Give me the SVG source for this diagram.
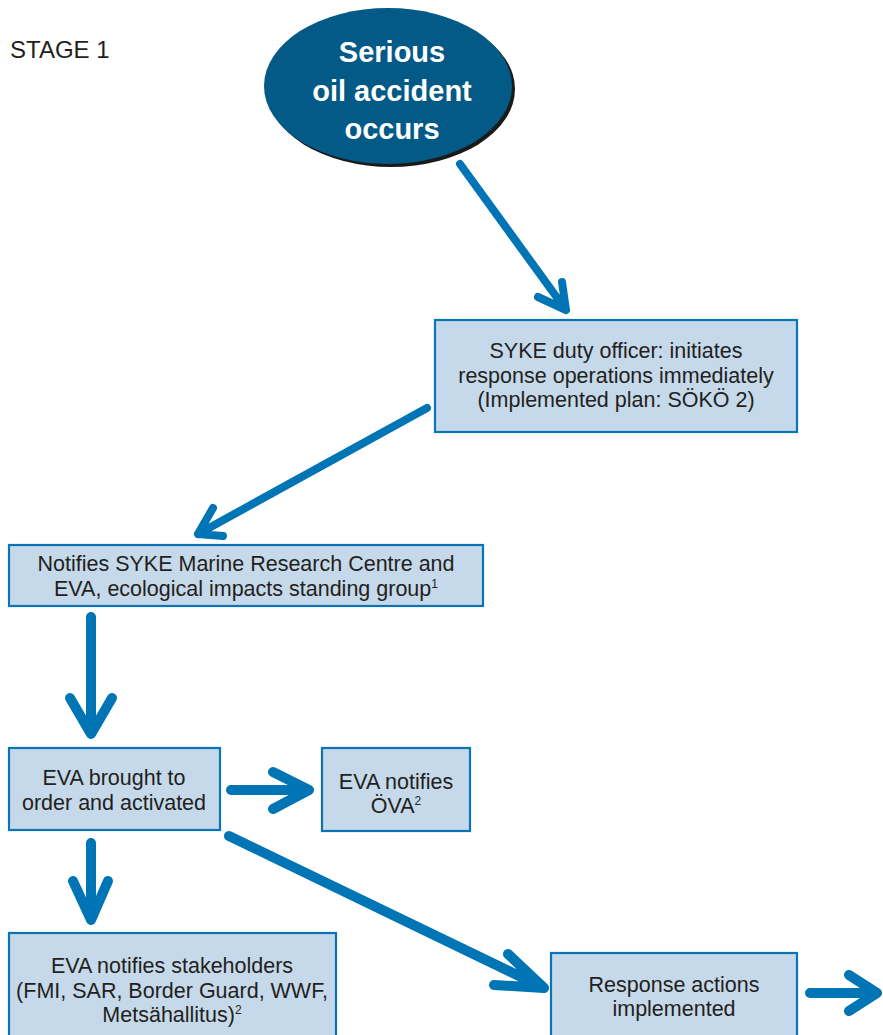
<svg xmlns="http://www.w3.org/2000/svg" width="883" height="1035" viewBox="0 0 883 1035">
<style>
.box{fill:#c5d9ea;stroke:#0a74b4;stroke-width:2.2}
.t{font-family:"Liberation Sans",Arial,sans-serif;font-size:21.5px;fill:#231f20;text-anchor:middle}
.sup{font-size:12px}
.a{fill:none;stroke:#0075b5;stroke-linecap:round;stroke-linejoin:round}
.w8{stroke-width:8}
.w10{stroke-width:10}
</style>
<rect width="883" height="1035" fill="#ffffff"/>
<text x="10" y="58" style="font-family:'Liberation Sans',Arial,sans-serif;font-size:24px;fill:#231f20">STAGE 1</text>
<g id="start">
<ellipse cx="391" cy="89" rx="124" ry="78" fill="#1a1a1a"/>
<ellipse cx="388" cy="86" rx="124" ry="78" fill="#045a86"/>
<text class="t" x="392" y="62" style="fill:#fff;font-weight:bold;font-size:29px">Serious</text>
<text class="t" x="392" y="101" style="fill:#fff;font-weight:bold;font-size:29px">oil accident</text>
<text class="t" x="392" y="139" style="fill:#fff;font-weight:bold;font-size:29px">occurs</text>
</g>
<g id="duty">
<rect class="box" x="435" y="320" width="362" height="112"/>
<text class="t" x="616" y="358">SYKE duty officer: initiates</text>
<text class="t" x="616" y="383">response operations immediately</text>
<text class="t" x="616" y="407">(Implemented plan: SÖKÖ 2)</text>
</g>
<g id="notifies">
<rect class="box" x="9" y="545" width="474" height="61"/>
<text class="t" x="246" y="571">Notifies SYKE Marine Research Centre and</text>
<text class="t" x="246" y="596">EVA, ecological impacts standing group<tspan class="sup" dy="-8">1</tspan></text>
</g>
<g id="eva">
<rect class="box" x="9" y="748" width="211" height="82"/>
<text class="t" x="114" y="785">EVA brought to</text>
<text class="t" x="114" y="810">order and activated</text>
</g>
<g id="ova">
<rect class="box" x="322" y="748" width="148" height="83"/>
<text class="t" x="396" y="789">EVA notifies</text>
<text class="t" x="396" y="813">ÖVA<tspan class="sup" dy="-8">2</tspan></text>
</g>
<g id="stakeholders">
<rect class="box" x="9" y="933" width="327" height="110"/>
<text class="t" x="172" y="973">EVA notifies stakeholders</text>
<text class="t" x="172" y="998">(FMI, SAR, Border Guard, WWF,</text>
<text class="t" x="172" y="1022">Metsähallitus)<tspan class="sup" dy="-8">2</tspan></text>
</g>
<g id="response">
<rect class="box" x="551" y="953" width="246" height="90"/>
<text class="t" x="674" y="992">Response actions</text>
<text class="t" x="674" y="1016">implemented</text>
</g>
<g id="connectors">
<path class="a w8" d="M460 164 L566 310 M538 297 L566 310 L562 282"/>
<path class="a w8" d="M427 408 L198 534 M213 508 L198 534 L223 536"/>
<path class="a w10" d="M91 617 L91 734 M70 698 L91 734 L112 698"/>
<path class="a w10" d="M231 790 L309 790 M273 772 L309 790 L273 809"/>
<path class="a w10" d="M91 843 L91 920 M73 881 L91 920 L108 881"/>
<path class="a w10" d="M229 836 L544 988 M508 954 L544 988 L494 985"/>
<path class="a w10" d="M810 993 L877 993 M849 975 L877 993 L849 1011"/>
</g>
</svg>
